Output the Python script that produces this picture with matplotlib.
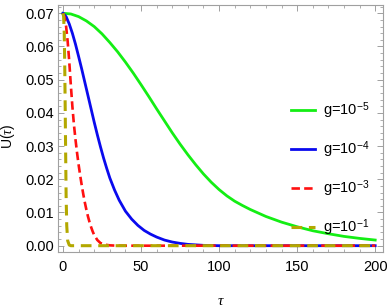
import matplotlib.pyplot as plt
from matplotlib.ticker import MultipleLocator, FormatStrFormatter
from matplotlib.transforms import ScaledTranslation

plt.rcParams['font.family'] = ['Liberation Sans', 'DejaVu Sans']
plt.rcParams['mathtext.fontset'] = 'custom'
plt.rcParams['mathtext.rm'] = 'Liberation Sans'
plt.rcParams['mathtext.it'] = 'Liberation Serif:italic'

# values
tau_g5 = [0, 5, 10, 15, 20, 25, 30, 35, 40, 45, 50, 55, 60, 65, 70, 75, 80,
          85, 90, 95, 100, 105, 110, 115, 120, 130, 140, 150, 160, 170, 180,
          190, 200]
u_g5 = [0.0700, 0.0698, 0.0690, 0.0677, 0.0660, 0.0638, 0.0612, 0.0584,
        0.0553, 0.0520, 0.0485, 0.0449, 0.0412, 0.0376, 0.0340, 0.0306,
        0.0274, 0.0244, 0.0216, 0.0191, 0.0169, 0.0150, 0.0134, 0.0121,
        0.0109, 0.0088, 0.0071, 0.0057, 0.0045, 0.0036, 0.0028, 0.0022,
        0.0017]

tau_g4 = [0, 2, 4, 6, 8, 10, 12, 14, 16, 18, 20, 22, 24, 26, 28, 30, 33, 36,
          40, 44, 48, 52, 56, 60, 65, 70, 75, 80, 90, 100, 200]
u_g4 = [0.0700, 0.0690, 0.0668, 0.0640, 0.0607, 0.0570, 0.0532, 0.0492,
        0.0452, 0.0412, 0.0372, 0.0334, 0.0298, 0.0264, 0.0233, 0.0204,
        0.0168, 0.0137, 0.0104, 0.0080, 0.0061, 0.0046, 0.0035, 0.0026,
        0.0017, 0.0011, 0.0007, 0.0004, 0.0001, 0.0, 0.0]

tau_g3 = [0, 1, 2, 3, 4, 5, 6, 7, 8, 9, 10, 11, 12, 13, 14, 15, 16, 17, 18,
          19, 20, 22, 24, 27, 30, 35, 200]
u_g3 = [0.0700, 0.0688, 0.0660, 0.0615, 0.0555, 0.0485, 0.0420, 0.0365,
        0.0320, 0.0280, 0.0244, 0.0212, 0.0182, 0.0155, 0.0130, 0.0108,
        0.0088, 0.0071, 0.0056, 0.0043, 0.0032, 0.0017, 0.0008, 0.0003,
        0.0001, 0.0, 0.0]

tau_g1 = [0, 0.4, 0.8, 1.1, 1.4, 1.7, 2.0, 2.4, 3.0, 4.0, 5.0, 200]
u_g1 = [0.0700, 0.0690, 0.0640, 0.0550, 0.0420, 0.0280, 0.0150, 0.0060,
        0.0015, 0.0002, 0.0, 0.0]

labels = ['g=10$^{-5}$', 'g=10$^{-4}$', 'g=10$^{-3}$', 'g=10$^{-1}$']

fig = plt.figure(figsize=(3.9, 3.08), dpi=100)
ax = fig.add_axes([58 / 390, 1 - 252 / 308, 325 / 390, 247 / 308])

ax.plot(tau_g5, u_g5, color='#14ee14', lw=2.0, label=labels[0])
ax.plot(tau_g4, u_g4, color='#0a0aee', lw=2.0, label=labels[1])
ax.plot(tau_g3, u_g3, color='#ff1010', lw=1.9, ls=(0, (3.2, 1.6)), label=labels[2])
ax.plot(tau_g1, u_g1, color='#b3a800', lw=2.2, ls=(0, (3.5, 2.2)), label=labels[3])

ax.set_xlim(-3.2, 205)
ax.set_ylim(-0.0019, 0.0725)

ax.xaxis.set_major_locator(MultipleLocator(50))
ax.xaxis.set_minor_locator(MultipleLocator(10))
ax.yaxis.set_major_locator(MultipleLocator(0.01))
ax.yaxis.set_minor_locator(MultipleLocator(0.002))
ax.yaxis.set_major_formatter(FormatStrFormatter('%.2f'))

for s in ax.spines.values():
    s.set_color('#a0a0a0')
    s.set_linewidth(0.8)
ax.tick_params(which='both', direction='in', top=True, right=True,
               color='#a0a0a0', labelsize=10.5, labelcolor='black')
ax.tick_params(which='major', length=4, width=0.7)
ax.tick_params(which='minor', length=2.2, width=0.6)
ax.tick_params(axis='x', pad=6)
ax.tick_params(axis='y', pad=3)

# keep the last x tick label inside the figure, as in the reference
fig.canvas.draw()
last = ax.get_xticklabels()[-1]
last.set_transform(last.get_transform() + ScaledTranslation(-0.08, 0, fig.dpi_scale_trans))

ax.set_xlabel(r'$\tau$', fontsize=11, labelpad=14)
ax.set_ylabel(r'U($\tau$)', fontsize=10)
ax.yaxis.set_label_coords(-0.125, 0.47)

ax.legend(loc='upper left', bbox_to_anchor=(0.7, 0.64), frameon=False,
          fontsize=10.5, handlelength=1.6, handletextpad=0.6,
          labelspacing=1.25, borderaxespad=0)

fig.savefig('out.png', dpi=100)
